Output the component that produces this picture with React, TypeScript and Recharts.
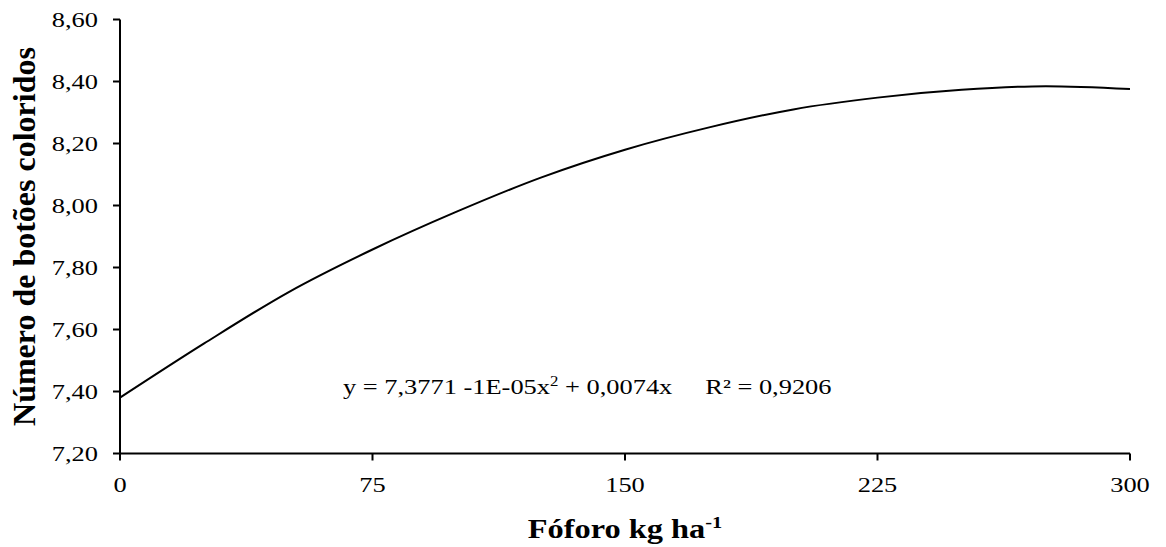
import { Label, Line, LineChart, XAxis, YAxis } from "recharts"

// dose de fósforo (kg/ha) e número de botões
const doses = [0, 25, 50, 75, 100, 125, 150, 175, 200, 225, 250, 275, 300]
const botoes = [7.38, 7.555, 7.72, 7.858, 7.98, 8.09, 8.18, 8.252, 8.31, 8.348, 8.373, 8.385, 8.376]

const xTicks = [0, 75, 150, 225, 300]
const yTicks = [7.2, 7.4, 7.6, 7.8, 8.0, 8.2, 8.4, 8.6]

const data = doses.map((dose, i) => ({ dose, botoes: botoes[i] }))

const serif = "'Liberation Serif', 'Times New Roman', serif"
// o original parece esticado na horizontal
const stretch = 1.2

function XTick({ x, y, payload }: any) {
  return (
    <text
      transform={`translate(${x} ${y}) scale(${stretch} 1)`}
      textAnchor="middle"
      dy="0.71em"
      fontFamily={serif}
      fontSize={22}
      fill="#000"
    >
      {payload.value}
    </text>
  )
}

function YTick({ x, y, payload }: any) {
  return (
    <text
      transform={`translate(${x} ${y}) scale(${stretch} 1)`}
      textAnchor="end"
      dy="0.355em"
      fontFamily={serif}
      fontSize={22}
      fill="#000"
    >
      {payload.value.toFixed(2).replace(".", ",")}
    </text>
  )
}

function XTitle({ viewBox }: any) {
  const cx = viewBox.x + viewBox.width / 2
  const y = viewBox.y + 84
  return (
    <text
      transform={`translate(${cx} ${y}) scale(${stretch} 1)`}
      textAnchor="middle"
      fontFamily={serif}
      fontWeight="bold"
      fontSize={27}
      fill="#000"
    >
      Fóforo kg ha
      <tspan dy={-10} fontSize={17}>
        -1
      </tspan>
    </text>
  )
}

function YTitle({ viewBox }: any) {
  const cy = viewBox.y + viewBox.height / 2
  const x = 35
  return (
    <text
      transform={`translate(${x} ${cy}) rotate(-90)`}
      textAnchor="middle"
      fontFamily={serif}
      fontWeight="bold"
      fontSize={32}
      fill="#000"
    >
      Número de botões coloridos
    </text>
  )
}

export default function App() {
  return (
    <div style={{ position: "absolute", left: 0, top: 0, width: 1166, height: 547, background: "#fff" }}>
      <LineChart
        width={1166}
        height={547}
        data={data}
        margin={{ top: 19.5, right: 36, bottom: 63.5, left: 0 }}
      >
        <XAxis
          dataKey="dose"
          type="number"
          domain={[0, 300]}
          ticks={xTicks}
          tick={<XTick />}
          tickSize={7}
          tickMargin={16}
          stroke="#000"
          strokeWidth={2}
        >
          <Label content={<XTitle />} />
        </XAxis>
        <YAxis
          type="number"
          domain={[7.2, 8.6]}
          ticks={yTicks}
          width={120}
          tick={<YTick />}
          tickSize={7}
          tickMargin={15}
          stroke="#000"
          strokeWidth={2}
        >
          <Label content={<YTitle />} />
        </YAxis>
        <Line
          type="monotone"
          dataKey="botoes"
          stroke="#000"
          strokeWidth={2}
          dot={false}
          isAnimationActive={false}
        />
      </LineChart>
      <div
        style={{
          position: "absolute",
          left: 343,
          top: 372,
          fontFamily: serif,
          fontSize: 22,
          color: "#000",
          whiteSpace: "pre",
          lineHeight: "30px",
          transform: `scaleX(${stretch})`,
          transformOrigin: "left top",
        }}
      >
        y = 7,3771 -1E-05x<sup style={{ fontSize: 14, lineHeight: 0 }}>2</sup> + 0,0074x     R² = 0,9206
      </div>
    </div>
  )
}
